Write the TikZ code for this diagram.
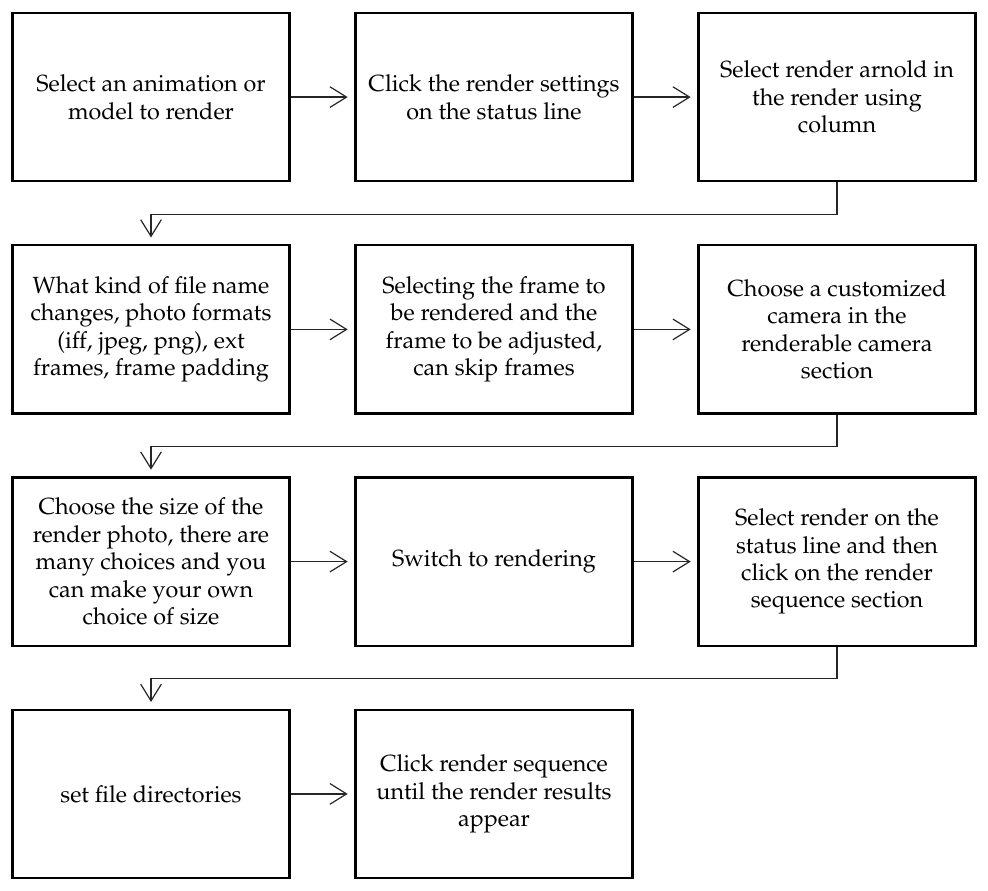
\documentclass[tikz,border=0pt]{standalone}
\usepackage[T1]{fontenc}
\usepackage{mathpazo}
\usetikzlibrary{arrows.meta}

\tikzset{
  stepbox/.style={draw=black, line width=1.7pt, minimum width=207.75pt,
    minimum height=126.2pt, inner sep=0pt, align=center,
    font=\fontsize{17.5}{20.6}\selectfont},
  flow/.style={draw=black!85, line width=0.9pt,
    -{Straight Barb[length=12.5pt,width=15.5pt,line width=0.9pt]},
    shorten >=5pt},
}

\begin{document}
\begin{tikzpicture}[x=0.75pt, y=-0.75pt]
  \useasboundingbox (0,0) rectangle (988,891);

  % row 1
  \node[stepbox] (s1) at (151,97.1)   {Select an animation or\\model to render};
  \node[stepbox] (s2) at (494,97.1)   {Click the render settings\\on the status line};
  \node[stepbox] (s3) at (837,97.1)   {Select render arnold in\\the render using\\column};
  % row 2
  \node[stepbox] (s4) at (151,329.4)  {What kind of file name\\changes, photo formats\\(iff, jpeg, png), ext\\frames, frame padding};
  \node[stepbox] (s5) at (494,329.4)  {Selecting the frame to\\be rendered and the\\frame to be adjusted,\\can skip frames};
  \node[stepbox] (s6) at (837,329.4)  {Choose a customized\\camera in the\\renderable camera\\section};
  % row 3
  \node[stepbox] (s7) at (151,561.6)  {Choose the size of the\\render photo, there are\\many choices and you\\can make your own\\choice of size};
  \node[stepbox] (s8) at (494,561.6)  {Switch to rendering};
  \node[stepbox] (s9) at (837,561.6)  {Select render on the\\status line and then\\click on the render\\sequence section};
  % row 4
  \node[stepbox] (s10) at (151,793.9) {set file directories};
  \node[stepbox] (s11) at (494,793.9) {Click render sequence\\until the render results\\appear};

  % straight links inside a row
  \draw[flow] (s1) -- (s2);
  \draw[flow] (s2) -- (s3);
  \draw[flow] (s4) -- (s5);
  \draw[flow] (s5) -- (s6);
  \draw[flow] (s7) -- (s8);
  \draw[flow] (s8) -- (s9);
  \draw[flow] (s10) -- (s11);

  % elbow links from the end of a row to the start of the next
  \draw[flow] (s3.south) -- ++(0,32) -| (s4.north);
  \draw[flow] (s6.south) -- ++(0,32) -| (s7.north);
  \draw[flow] (s9.south) -- ++(0,32) -| (s10.north);
\end{tikzpicture}
\end{document}
